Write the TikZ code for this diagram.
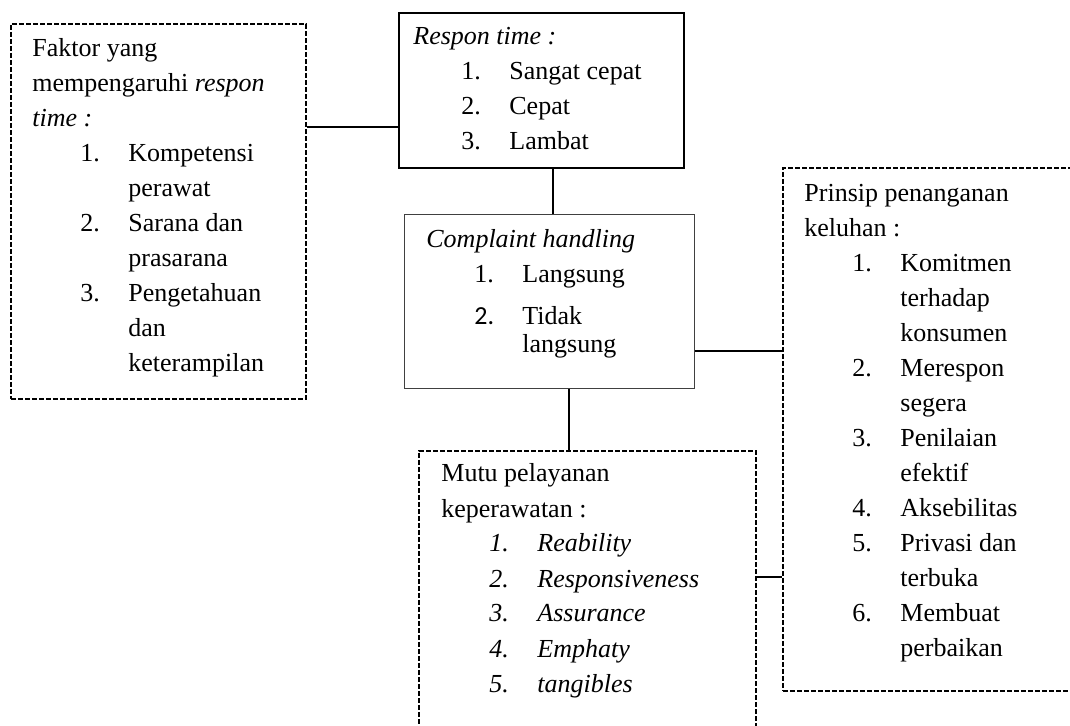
\documentclass[tikz,border=0pt]{standalone}
\usepackage{fontspec}
\setmainfont{Liberation Serif}
\newfontfamily\calibri{Carlito}
% list helpers: number column and continuation lines
\newcommand{\itm}[2]{\hspace*{24pt}\makebox[24pt][l]{#1}#2}
\newcommand{\cont}[1]{\hspace*{48pt}#1}
\newcommand{\boxtext}[1]{\parbox[t]{140pt}{\fontsize{13}{17.5}\selectfont\raggedright #1}}
\begin{document}
\begin{tikzpicture}[x=0.5pt, y=-0.5pt,
    dashbox/.style={draw, line width=0.9pt, dash pattern=on 2.5pt off 1pt, inner sep=0, anchor=north west},
    solidbox/.style={draw, line width=1.1pt, inner sep=0, anchor=north west},
    thinbox/.style={draw=black!75, line width=0.6pt, inner sep=0, anchor=north west},
    txt/.style={anchor=base west, inner sep=0},
    link/.style={line width=1pt}]
    \useasboundingbox (0,0) rectangle (1070,726);
    \clip (0,0) rectangle (1070,726);

    % boxes
    \node[dashbox, minimum width=147.5pt, minimum height=187.5pt] (faktor) at (10,23) {};
    \node[solidbox, minimum width=142.5pt, minimum height=77.5pt] (respon) at (398,12) {};
    \node[thinbox, minimum width=145pt, minimum height=87pt] (complaint) at (404,214) {};
    \node[dashbox, minimum width=146.5pt, minimum height=261.5pt] (prinsip) at (782,167) {};
    \node[dashbox, minimum width=168.5pt, minimum height=145pt] (mutu) at (418,450) {};

    % texts
    \node[txt] (faktortxt) at ([shift={(22,34)}]faktor.north west) {\boxtext{%
        Faktor yang\\
        mempengaruhi \textit{respon}\\
        \textit{time :}\\
        \itm{1.}{Kompetensi}\\
        \cont{perawat}\\
        \itm{2.}{Sarana dan}\\
        \cont{prasarana}\\
        \itm{3.}{Pengetahuan}\\
        \cont{dan}\\
        \cont{keterampilan}}};
    \node[txt] (respontxt) at ([shift={(15,33)}]respon.north west) {\boxtext{%
        \textit{Respon time :}\\
        \itm{1.}{Sangat cepat}\\
        \itm{2.}{Cepat}\\
        \itm{3.}{Lambat}}};
    \node[txt] (complainttxt) at ([shift={(22,34)}]complaint.north west) {\boxtext{%
        \textit{Complaint handling}\\
        \itm{1.}{Langsung}\\[3.5pt]
        \itm{{\calibri 2.}}{Tidak}\\[-3.5pt]
        \cont{langsung}}};
    \node[txt] (prinsiptxt) at ([shift={(22,35)}]prinsip.north west) {\boxtext{%
        Prinsip penanganan\\
        keluhan :\\
        \itm{1.}{Komitmen}\\
        \cont{terhadap}\\
        \cont{konsumen}\\
        \itm{2.}{Merespon}\\
        \cont{segera}\\
        \itm{3.}{Penilaian}\\
        \cont{efektif}\\
        \itm{4.}{Aksebilitas}\\
        \itm{5.}{Privasi dan}\\
        \cont{terbuka}\\
        \itm{6.}{Membuat}\\
        \cont{perbaikan}}};
    \node[txt] (mututxt) at ([shift={(23,32)}]mutu.north west) {\boxtext{%
        Mutu pelayanan\\
        keperawatan :\\
        \itm{\textit{1.}}{\textit{Reability}}\\
        \itm{\textit{2.}}{\textit{Responsiveness}}\\
        \itm{\textit{3.}}{\textit{Assurance}}\\
        \itm{\textit{4.}}{\textit{Emphaty}}\\
        \itm{\textit{5.}}{\textit{tangibles}}}};

    % connectors
    \draw[link] (respon.west) ++(0,36.5) coordinate (a1) -- (a1 -| faktor.east);
    \draw[link] (complaint.north) ++(3,0) coordinate (a2) -- (a2 |- respon.south);
    \draw[link] (complaint.east) ++(0,49) coordinate (a3) -- (a3 -| prinsip.west);
    \draw[link] (complaint.south) ++(19,0) coordinate (a4) -- (a4 |- mutu.north);
    \draw[link] (mutu.east) ++(0,-19) coordinate (a5) -- (a5 -| prinsip.west);
\end{tikzpicture}
\end{document}
